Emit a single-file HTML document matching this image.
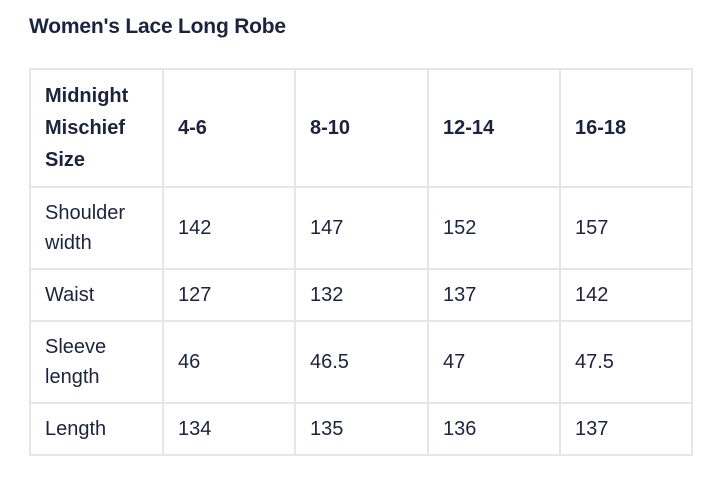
<!DOCTYPE html>
<html><head><style>
body{margin:0;width:720px;height:485px;background:#fff;font-family:"Liberation Sans",sans-serif;color:#1c2340;position:relative;overflow:hidden}
h1{position:absolute;left:29px;top:15px;margin:0;font-size:21px;font-weight:bold;letter-spacing:-0.2px}
table{position:absolute;left:29px;top:68px;border-collapse:collapse;table-layout:fixed}
td{border:2px solid #e6e6e6;padding:0 0 0 14px;font-size:20px;line-height:30px;vertical-align:middle;box-sizing:border-box}
tr.h td{font-weight:bold;font-size:20px;line-height:32px}
</style></head><body>
<h1>Women's Lace Long Robe</h1>
<table>
<colgroup><col style="width:133px"><col style="width:132px"><col style="width:133px"><col style="width:132px"><col style="width:132px"></colgroup>
<tr class="h" style="height:118px"><td>Midnight<br>Mischief<br>Size</td><td>4-6</td><td>8-10</td><td>12-14</td><td>16-18</td></tr>
<tr style="height:82px"><td>Shoulder<br>width</td><td>142</td><td>147</td><td>152</td><td>157</td></tr>
<tr style="height:52px"><td>Waist</td><td>127</td><td>132</td><td>137</td><td>142</td></tr>
<tr style="height:82px"><td>Sleeve<br>length</td><td>46</td><td>46.5</td><td>47</td><td>47.5</td></tr>
<tr style="height:52px"><td>Length</td><td>134</td><td>135</td><td>136</td><td>137</td></tr>
</table>
</body></html>
